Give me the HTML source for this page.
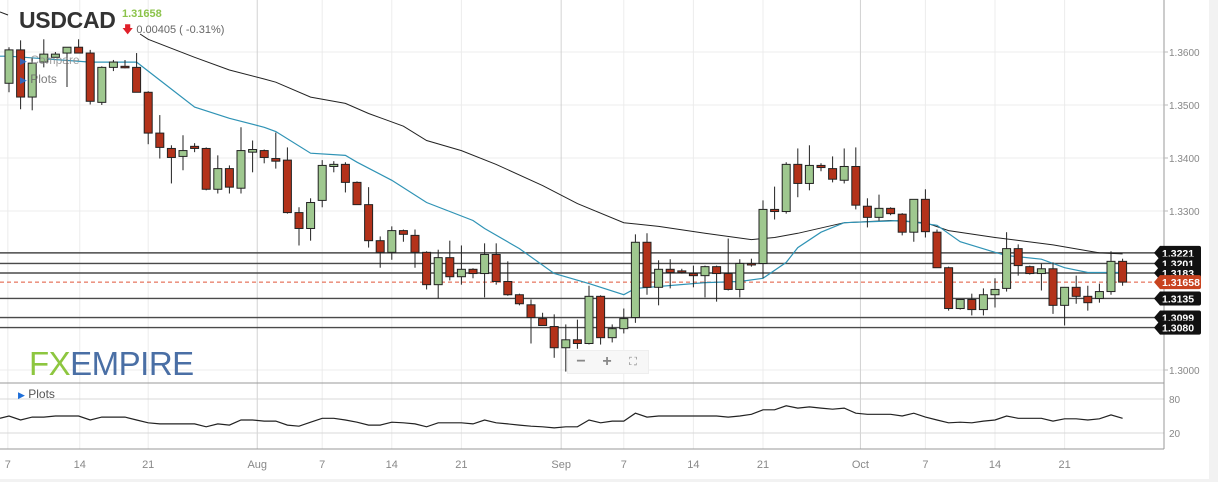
<!DOCTYPE html>
<html><head><meta charset="utf-8">
<style>
html,body{margin:0;padding:0;background:#fff;}
body{width:1218px;height:482px;overflow:hidden;position:relative;font-family:"Liberation Sans",sans-serif;}
svg{position:absolute;left:0;top:0;}
</style></head>
<body>
<svg id="chart" width="1218" height="482"></svg>
<script>
// ---- data ----
const opens  = [1.3541,1.3604,1.3515,1.3581,1.3590,1.3598,1.3609,1.3598,1.3505,1.3571,1.3573,1.3571,1.3524,1.3447,1.3418,1.3403,1.3422,1.3418,1.3341,1.3380,1.3343,1.3411,1.3414,1.3399,1.3396,1.3297,1.3267,1.3320,1.3384,1.3388,1.3354,1.3312,1.3244,1.3222,1.3263,1.3254,1.3222,1.3161,1.3212,1.3176,1.3190,1.3182,1.3218,1.3167,1.3142,1.3123,1.3097,1.3082,1.3042,1.3057,1.3050,1.3139,1.3061,1.3078,1.3099,1.3241,1.3156,1.3190,1.3187,1.3182,1.3178,1.3195,1.3182,1.3152,1.3201,1.3201,1.3303,1.3299,1.3388,1.3352,1.3386,1.3380,1.3358,1.3384,1.3309,1.3288,1.3305,1.3294,1.3260,1.3322,1.3260,1.3193,1.3116,1.3133,1.3114,1.3142,1.3154,1.3229,1.3195,1.3182,1.3191,1.3122,1.3156,1.3139,1.3135,1.3148,1.3205];
const highs  = [1.3609,1.3622,1.3588,1.3624,1.3600,1.3609,1.3624,1.3604,1.3573,1.3585,1.3585,1.3598,1.3526,1.3481,1.3424,1.3443,1.3428,1.3420,1.3405,1.3386,1.3458,1.3433,1.3416,1.3448,1.3420,1.3307,1.3324,1.3396,1.3394,1.3392,1.3356,1.3345,1.3252,1.3271,1.3265,1.3265,1.3224,1.3227,1.3244,1.3235,1.3192,1.3239,1.3239,1.3205,1.3144,1.3133,1.3108,1.3105,1.3086,1.3095,1.3159,1.3141,1.3086,1.3116,1.3256,1.3258,1.3207,1.3209,1.3191,1.3197,1.3197,1.3197,1.3248,1.3209,1.3210,1.3320,1.3346,1.3392,1.3418,1.3424,1.3390,1.3403,1.3418,1.3420,1.3324,1.3331,1.3307,1.3296,1.3322,1.3341,1.3265,1.3195,1.3133,1.3144,1.3154,1.3173,1.3260,1.3237,1.3197,1.3201,1.3203,1.3156,1.3178,1.3159,1.3163,1.3224,1.3210];
const lows   = [1.3524,1.3492,1.3490,1.3571,1.3590,1.3534,1.3598,1.3501,1.3500,1.3564,1.3569,1.3524,1.3426,1.3399,1.3352,1.3377,1.3411,1.3339,1.3333,1.3333,1.3333,1.3373,1.3390,1.3380,1.3295,1.3235,1.3244,1.3307,1.3373,1.3335,1.3312,1.3231,1.3193,1.3208,1.3242,1.3193,1.3152,1.3135,1.3169,1.3161,1.3173,1.3137,1.3161,1.3140,1.3122,1.3050,1.3084,1.3023,1.2997,1.3040,1.3048,1.3048,1.3052,1.3069,1.3089,1.3142,1.3122,1.3154,1.3182,1.3156,1.3137,1.3129,1.3150,1.3137,1.3195,1.3173,1.3284,1.3295,1.3326,1.3339,1.3375,1.3354,1.3352,1.3303,1.3269,1.3282,1.3292,1.3254,1.3242,1.3250,1.3193,1.3112,1.3114,1.3103,1.3103,1.3118,1.3148,1.3178,1.3180,1.3150,1.3106,1.3084,1.3125,1.3112,1.3127,1.3142,1.3159];
const closes = [1.3604,1.3515,1.3579,1.3596,1.3596,1.3609,1.3598,1.3507,1.3571,1.3581,1.3571,1.3524,1.3447,1.3420,1.3401,1.3414,1.3418,1.3341,1.3380,1.3345,1.3414,1.3416,1.3401,1.3394,1.3297,1.3267,1.3316,1.3386,1.3388,1.3354,1.3312,1.3244,1.3222,1.3263,1.3256,1.3222,1.3161,1.3212,1.3176,1.3190,1.3182,1.3218,1.3167,1.3142,1.3125,1.3099,1.3084,1.3042,1.3057,1.3050,1.3139,1.3061,1.3078,1.3097,1.3241,1.3156,1.3190,1.3184,1.3184,1.3178,1.3195,1.3182,1.3152,1.3201,1.3199,1.3303,1.3299,1.3388,1.3352,1.3386,1.3382,1.3360,1.3384,1.3311,1.3288,1.3305,1.3295,1.3260,1.3322,1.3261,1.3193,1.3116,1.3133,1.3114,1.3142,1.3152,1.3229,1.3197,1.3182,1.3191,1.3122,1.3156,1.3139,1.3127,1.3148,1.3205,1.31658];
const ma20Idx = [0,7,11,13,16,19,22,23,26,29,30,33,36,40,41,44,47,50,53,54,60,63,65,67,68,70,72,77,80,82,85,86,89,91,93,96];
const ma20Val = [1.3592,1.3581,1.3581,1.3547,1.3496,1.3475,1.3458,1.3450,1.3409,1.3405,1.3392,1.3358,1.3316,1.3282,1.3267,1.3229,1.3182,1.3163,1.3142,1.3154,1.3165,1.3167,1.3173,1.3203,1.3231,1.3260,1.3278,1.3282,1.3273,1.3242,1.3222,1.3216,1.3209,1.3193,1.3184,1.3184];
const ma50Idx = [11.3,12,16,19,22,23,26,29,31,34,36,39,42,46,49,53,56,60,64,66,68,72,76,79,81,85,90,94,96];
const ma50Val = [1.3634,1.3624,1.3590,1.3566,1.3549,1.3543,1.3515,1.3503,1.3484,1.3460,1.3433,1.3414,1.3388,1.3348,1.3314,1.3278,1.3271,1.3258,1.3246,1.3250,1.3258,1.3278,1.3282,1.3278,1.3263,1.3250,1.3236,1.3221,1.3219];
const oscVals = [50,43,48,48,50,50,50,43,48,48,48,43,38,36,36,36,36,31,36,34,43,43,41,41,34,32,39,46,46,43,39,34,34,39,38,36,31,38,38,38,36,43,38,36,34,32,31,29,31,31,43,38,41,41,55,48,50,50,50,50,50,50,48,50,53,61,61,68,64,66,64,62,64,55,53,53,53,50,55,48,43,38,39,38,41,43,50,46,46,46,41,45,45,43,45,52,46];
const levelVals = [1.3221,1.3201,1.3183,1.3135,1.3099,1.3080];
const levelLabels = ["1.3221","1.3201","1.3183","1.3135","1.3099","1.3080"];
const lastPrice = 1.31658;
const priceTicks = [1.3600,1.3500,1.3400,1.3300,1.3200,1.3100,1.3000];
const priceTickLabels = ["1.3600","1.3500","1.3400","1.3300","","","1.3000"];
const oscTicks = [80,20];
const dateIdx = [-0.1,6.1,12,21.4,27,33,39,47.6,53,59,65,73.4,79,85,91];
const dateLabels = ["7","14","21","Aug","7","14","21","Sep","7","14","21","Oct","7","14","21"];
const monthStarts = ["Aug","Sep","Oct"];

// ---- axes ----
const svg = document.getElementById('chart');
const NS = 'http://www.w3.org/2000/svg';
const xOf = i => 9 + i * 11.6;
const yOf = p => 211 + (1.33 - p) * 5300;
const yOsc = v => 399 + (80 - v) * (34 / 60);
function mk(tag, attrs, parent) {
  const e = document.createElementNS(NS, tag);
  for (const k in attrs) e.setAttribute(k, attrs[k]);
  (parent || svg).appendChild(e);
  return e;
}
function txt(x, y, s, attrs, parent) {
  const t = mk('text', Object.assign({x: x, y: y}, attrs), parent);
  t.textContent = s;
  return t;
}

mk('rect', {x: 0, y: 0, width: 1218, height: 482, fill: '#f2f2f2'});
mk('rect', {x: 0, y: 0, width: 1209, height: 479, fill: '#ffffff'});

const grid = mk('g', {});


priceTicks.forEach(p => {
  mk('line', {x1: 0, x2: 1164, y1: yOf(p), y2: yOf(p), stroke: '#ececec', 'stroke-width': 1}, grid);
});
dateIdx.forEach((d, k) => {
  const isMonth = monthStarts.includes(dateLabels[k]);
  mk('line', {x1: xOf(d), x2: xOf(d), y1: 0, y2: 449, stroke: isMonth ? '#d2d2d2' : '#ececec', 'stroke-width': 1}, grid);
});
oscTicks.forEach(v => {
  mk('line', {x1: 0, x2: 1164, y1: yOsc(v), y2: yOsc(v), stroke: '#d8d8d8', 'stroke-width': 1}, grid);
});

mk('line', {x1: 1164, x2: 1164, y1: 0, y2: 449, stroke: '#999', 'stroke-width': 1});
mk('line', {x1: 0, x2: 1164, y1: 383, y2: 383, stroke: '#999', 'stroke-width': 1});
mk('line', {x1: 0, x2: 1164, y1: 449, y2: 449, stroke: '#999', 'stroke-width': 1});

priceTicks.forEach((p, k) => {
  if (!priceTickLabels[k]) return;
  mk('line', {x1: 1164, x2: 1168, y1: yOf(p), y2: yOf(p), stroke: '#bbb'});
  const t = txt(1169, yOf(p) + 4, priceTickLabels[k], {'font-size': 10, fill: '#888'});
  
  
});
oscTicks.forEach(v => {
  const t = txt(1169, yOsc(v) + 4, String(v), {'font-size': 10, fill: '#888'});
  
  
});
dateIdx.forEach((d, k) => {
  const t = txt(xOf(d), 468, dateLabels[k], {'font-size': 11, fill: '#888', 'text-anchor': 'middle'});
  
  
});

levelVals.forEach((p, k) => {
  const l = mk('line', {x1: 0, x2: 1158, y1: yOf(p), y2: yOf(p), stroke: '#4a4a4a', 'stroke-width': 1.4});
  
  
});
const lp = mk('line', {x1: 0, x2: 1158, y1: yOf(lastPrice), y2: yOf(lastPrice), stroke: '#e0563a', 'stroke-width': 1, 'stroke-dasharray': '4,3'});



function linePath(idx, vals) {
  return idx.map((i, k) => (k ? 'L' : 'M') + xOf(i).toFixed(1) + ',' + yOf(vals[k]).toFixed(1)).join(' ');
}
const ma50 = mk('path', {d: linePath(ma50Idx, ma50Val), fill: 'none', stroke: '#222', 'stroke-width': 1});


mk('line', {x1: 0, x2: 8, y1: 12, y2: 15, stroke: '#222', 'stroke-width': 1});
const ma20 = mk('path', {d: 'M0,' + yOf(ma20Val[0]).toFixed(1) + ' ' + linePath(ma20Idx, ma20Val).replace('M', 'L'), fill: 'none', stroke: '#2f93b5', 'stroke-width': 1.2});



const cg = mk('g', {});


opens.forEach((o, i) => {
  const c = closes[i], x = xOf(i);
  const up = c >= o;
  const g = mk('g', {}, cg);
  
  
  mk('line', {x1: x, x2: x, y1: yOf(highs[i]), y2: yOf(lows[i]), stroke: '#222', 'stroke-width': 1}, g);
  const top = yOf(Math.max(o, c)), bot = yOf(Math.min(o, c));
  mk('rect', {x: x - 4, y: top, width: 8, height: Math.max(bot - top, 1.5), fill: up ? '#9fc88f' : '#b3321a', stroke: '#222', 'stroke-width': 1}, g);
});

function tag(p, label, color, name) {
  const y = yOf(p);
  const g = mk('g', {});
  
  
  mk('path', {d: `M1154,${y} L1160,${y - 7} L1199,${y - 7} Q1201,${y - 7} 1201,${y - 5} L1201,${y + 5} Q1201,${y + 7} 1199,${y + 7} L1160,${y + 7} Z`, fill: color}, g);
  txt(1162, y + 4, label, {'font-size': 10.5, fill: '#fff', 'font-weight': 'bold'}, g);
}
levelVals.forEach((p, k) => tag(p, levelLabels[k], '#111', 'level-price-tag'));
tag(lastPrice, lastPrice.toFixed(5), '#c8431f', 'last-price-tag');

const op = oscVals.map((v, i) => (i ? 'L' : 'M') + xOf(i).toFixed(1) + ',' + yOsc(v).toFixed(1)).join(' ');
const osc = mk('path', {d: 'M0,' + yOsc(oscVals[0] - 4).toFixed(1) + ' ' + op.replace('M', 'L'), fill: 'none', stroke: '#222', 'stroke-width': 1.2});


</script>

<div style="position:absolute;left:19px;top:7px;">
  <span style="font-size:23px;font-weight:bold;color:#333;letter-spacing:-0.3px;">USDCAD</span>
  <div style="position:absolute;left:103px;top:1px;font-size:11px;color:#8bc34a;font-weight:bold;">1.31658</div>
  <div style="position:absolute;left:103px;top:14px;font-size:11px;color:#666;white-space:nowrap;"><span style="color:#e0202a;">&#129095;</span> 0.00405 ( -0.31%)</div>
</div>
<div style="position:absolute;left:20px;top:53px;font-size:12px;color:#888;opacity:0.8;"><span style="color:#1e6fd9;font-size:9px;">&#9654;</span> Compare</div>
<div style="position:absolute;left:20px;top:72px;font-size:12px;color:#666;opacity:0.85;"><span style="color:#1e6fd9;font-size:9px;">&#9654;</span> Plots</div>
<div style="position:absolute;left:18px;top:387px;font-size:12px;color:#555;"><span style="color:#1e6fd9;font-size:9px;">&#9654;</span> Plots</div>
<div style="position:absolute;left:29px;top:345px;font-size:33px;letter-spacing:-0.5px;"><span style="color:#8dc63f;">FX</span><span style="color:#4a6fa5;">EMPIRE</span></div>
<div style="position:absolute;left:567px;top:350px;width:80px;height:22px;background:#f7f7f7;border:1px solid #eee;display:flex;color:#888;font-size:16px;">
  <div style="width:26px;text-align:center;line-height:22px;font-weight:bold;">&minus;</div>
  <div style="width:26px;text-align:center;line-height:22px;font-weight:bold;">+</div>
  <div style="width:26px;text-align:center;line-height:22px;font-size:11px;">&#9974;</div>
</div>
</body></html>
